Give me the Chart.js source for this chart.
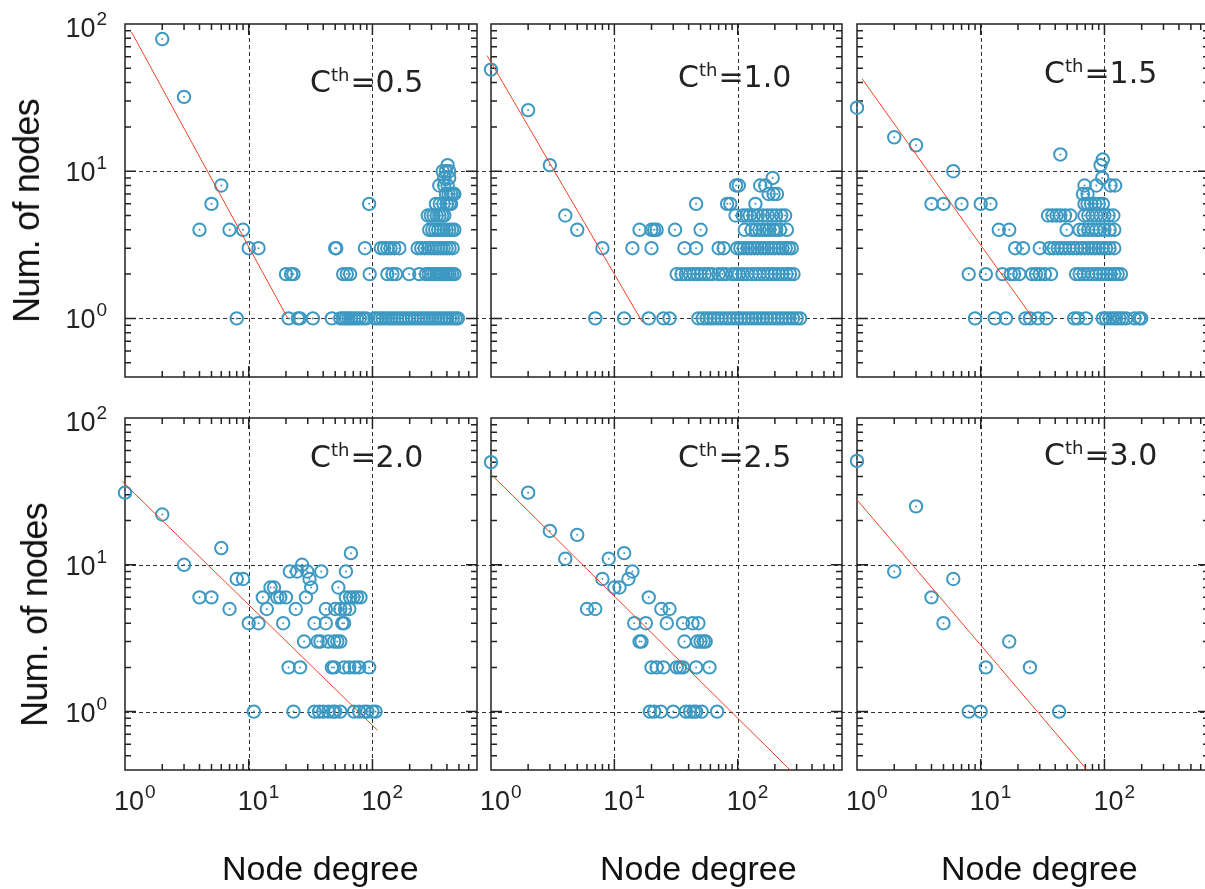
<!DOCTYPE html>
<html>
<head>
<meta charset="utf-8">
<script src="https://cdn.jsdelivr.net/npm/chart.js@4.4.0/dist/chart.umd.min.js"></script>
<style>
html, body { margin: 0; padding: 0; width: 1205px; height: 889px; overflow: hidden; background: #fff; }
canvas { position: absolute; left: 0; top: 0; }
.ylab { position: absolute; font: 36px "Liberation Sans", Arial, sans-serif; line-height: 36px; letter-spacing: -0.8px; white-space: nowrap; color: #111; transform: translate(-50%, -50%) rotate(-90deg); }
.xlab { position: absolute; font: 34px "Liberation Sans", Arial, sans-serif; line-height: 34px; white-space: nowrap; color: #111; }
.cth { position: absolute; font: 30px "DejaVu Sans", sans-serif; line-height: 30px; white-space: nowrap; color: #222; }
.cth span { font-size: 18px; position: relative; top: -11px; margin-right: 1px; }
</style>
</head>
<body>
<canvas id="c05" width="1225" height="889"></canvas>
<canvas id="c10" width="1225" height="889"></canvas>
<canvas id="c15" width="1225" height="889"></canvas>
<canvas id="c20" width="1225" height="889"></canvas>
<canvas id="c25" width="1225" height="889"></canvas>
<canvas id="c30" width="1225" height="889"></canvas>

<div class="ylab" style="left:27px; top:211px">Num. of nodes</div>
<div class="ylab" style="left:35px; top:615px">Num. of nodes</div>
<div class="xlab" style="left:222px; top:851px">Node degree</div>
<div class="xlab" style="left:600px; top:851px">Node degree</div>
<div class="xlab" style="left:941px; top:851px">Node degree</div>

<div class="cth" style="left:310px; top:67px">C<span>th</span>=0.5</div>
<div class="cth" style="left:678px; top:62px">C<span>th</span>=1.0</div>
<div class="cth" style="left:1044px; top:58px">C<span>th</span>=1.5</div>
<div class="cth" style="left:310px; top:442px">C<span>th</span>=2.0</div>
<div class="cth" style="left:678px; top:442px">C<span>th</span>=2.5</div>
<div class="cth" style="left:1044px; top:440px">C<span>th</span>=3.0</div>

<script>
// [node degree, number of nodes]
const pts05 = [
    [2, 79], [3, 32], [4, 4], [5, 6], [6, 8], [7, 4], [8, 1], [9, 4], [10, 3], [12, 3],
    [20, 2], [22, 2], [23, 2], [21, 1], [25, 1], [26, 1], [33, 1], [94, 6], [50, 3], [51, 3], [87, 3],
    [47, 1], [55, 1], [58, 1], [61, 1], [64, 1], [67, 1], [71, 1], [75, 1], [79, 1], [84, 1], [89, 1],
    [104, 1], [109, 1], [115, 1], [121, 1], [128, 1], [135, 1], [142, 1], [150, 1], [158, 1], [167, 1],
    [176, 1], [186, 1], [197, 1], [208, 1], [220, 1], [233, 1], [246, 1], [260, 1], [275, 1], [290, 1],
    [306, 1], [323, 1], [341, 1], [360, 1], [380, 1], [401, 1], [423, 1], [446, 1], [470, 1], [490, 1],
    [58, 2], [62, 2], [66, 2], [95, 2], [132, 2], [145, 2], [155, 2], [198, 2], [239, 2], [271, 2],
    [285, 2], [300, 2], [315, 2], [330, 2], [345, 2], [360, 2], [375, 2], [390, 2], [405, 2], [420, 2],
    [440, 2], [460, 2],
    [117, 3], [124, 3], [132, 3], [140, 3], [150, 3], [165, 3], [232, 3], [248, 3], [265, 3], [282, 3],
    [300, 3], [318, 3], [337, 3], [356, 3], [376, 3], [397, 3], [420, 3], [445, 3],
    [288, 4], [305, 4], [322, 4], [340, 4], [358, 4], [377, 4], [397, 4], [418, 4], [440, 4], [459, 4],
    [280, 5], [296, 5], [312, 5], [330, 5], [348, 5], [366, 5], [381, 5],
    [326, 6], [350, 6], [375, 6], [400, 6], [420, 6], [432, 6],
    [393, 7], [412, 7], [432, 7], [450, 7], [459, 7],
    [347, 8], [380, 8], [405, 8], [381, 9], [417, 9], [370, 10], [392, 10], [417, 10], [405, 11]
]
const pts10 = [
    [1, 49], [2, 26], [3, 11], [4, 5], [5, 4], [8, 3], [7, 1], [12, 1], [19, 1], [25, 1], [28, 1],
    [14, 3], [20, 3], [37, 3], [46, 3], [70, 3], [77, 3],
    [16, 4], [20, 4], [21, 4], [22, 4], [31, 4], [50, 4], [114, 4],
    [46, 6], [82, 6], [87, 6], [139, 6], [96, 5],
    [97, 8], [102, 8], [152, 8], [167, 8], [192, 9], [178, 7], [195, 7], [208, 7],
    [48, 1], [52, 1], [56, 1], [60, 1], [64, 1], [69, 1], [74, 1], [80, 1], [86, 1], [92, 1], [99, 1],
    [106, 1], [114, 1], [122, 1], [131, 1], [140, 1], [150, 1], [160, 1], [172, 1], [185, 1], [198, 1],
    [212, 1], [228, 1], [245, 1], [262, 1], [280, 1], [300, 1], [320, 1],
    [32, 2], [35, 2], [38, 2], [41, 2], [44, 2], [47, 2], [50, 2], [54, 2], [58, 2], [62, 2], [70, 2],
    [75, 2], [80, 2], [90, 2], [96, 2], [102, 2], [110, 2], [120, 2], [130, 2], [140, 2], [150, 2],
    [162, 2], [175, 2], [188, 2], [200, 2], [215, 2], [230, 2], [248, 2], [265, 2], [283, 2],
    [99, 3], [105, 3], [112, 3], [120, 3], [128, 3], [136, 3], [145, 3], [155, 3], [165, 3], [176, 3],
    [188, 3], [200, 3], [215, 3], [230, 3], [245, 3], [260, 3], [274, 3],
    [130, 4], [140, 4], [150, 4], [160, 4], [170, 4], [180, 4], [195, 4], [205, 4], [220, 4], [250, 4],
    [110, 5], [118, 5], [125, 5], [135, 5], [145, 5], [160, 5], [175, 5], [190, 5], [205, 5], [225, 5], [242, 5]
]
const pts15 = [
    [1, 27], [2, 17], [3, 15], [6, 10], [44, 13], [93, 11], [97, 12], [96, 9],
    [9, 1], [13, 1], [16, 1], [23, 1], [25, 1], [29, 1], [34, 1], [57, 1], [61, 1], [71, 1], [97, 1],
    [103, 1], [110, 1], [117, 1], [124, 1], [132, 1], [140, 1], [150, 1], [175, 1], [190, 1], [198, 1],
    [8, 2], [11, 2], [15, 2], [17.5, 2], [18.6, 2], [20.5, 2], [26, 2], [28, 2], [30, 2], [33, 2], [37, 2],
    [59, 2], [63, 2], [68, 2], [74, 2], [80, 2], [86, 2], [92, 2], [98, 2], [105, 2], [112, 2], [120, 2],
    [128, 2], [136, 2],
    [19, 3], [22, 3], [30, 3], [36, 3], [39, 3], [42, 3], [45, 3], [48, 3], [52, 3], [56, 3], [60, 3],
    [65, 3], [69, 3], [74, 3], [79, 3], [84, 3], [90, 3], [96, 3], [103, 3], [110, 3], [120, 3],
    [14, 4], [17, 4], [49.5, 4], [63, 4], [68, 4], [74, 4], [80, 4], [86, 4], [92, 4], [100, 4], [110, 4], [120, 4],
    [35, 5], [38, 5], [41, 5], [44, 5], [48, 5], [53, 5], [69, 5], [74, 5], [80, 5], [86, 5], [93, 5],
    [100, 5], [108, 5], [118, 5],
    [4, 6], [5, 6], [7, 6], [10, 6], [12, 6], [69, 6], [73, 6], [78, 6], [84, 6], [90, 6], [97, 6],
    [67, 7], [73, 7], [69, 8], [86, 8], [112, 8], [122, 8]
]
const pts20 = [
    [1, 31], [2, 22], [3, 10], [4, 6], [5, 6], [6, 13], [7, 5], [8, 8], [9, 8], [10, 4], [12, 4], [11, 1],
    [13, 6], [14, 5], [15, 7], [16, 7], [17, 6], [18, 6], [20, 6], [19, 4], [21, 2], [26, 2], [21.5, 9],
    [24.6, 9], [27, 10], [23, 1], [24, 5], [29, 6], [29.7, 9], [31, 8], [32, 7], [28, 3], [34, 4], [42, 4],
    [36, 3], [38, 3], [44, 3], [49, 3], [52, 3], [55, 3], [38.6, 9], [42, 5], [34, 1], [37, 1], [40, 1],
    [44, 1], [48, 1], [50, 1], [55, 1], [47, 2], [49, 2], [59, 2], [65, 2], [72, 2], [78, 2], [94, 2],
    [50, 5], [55, 5], [60, 5], [65, 5], [53, 7], [57, 4], [59, 4], [61, 9], [61, 6], [66, 6], [70, 6],
    [75, 6], [80, 6], [67, 12], [71, 1], [78, 1], [86, 1], [91, 1], [100, 1], [106, 1]
]
const pts25 = [
    [1, 50], [2, 31], [3, 17], [5, 16], [4, 11], [6, 5], [7, 5], [8, 8], [9, 11], [10, 7], [11, 7], [12, 12],
    [13, 8], [14, 9], [19, 6], [24, 5], [28, 5], [14.5, 4], [18, 4], [26.6, 4], [36, 4], [43, 4], [48, 4],
    [16, 3], [16.6, 3], [37, 3], [47, 3], [50, 3], [53, 3], [55, 3], [20, 2], [22, 2], [25, 2], [32, 2],
    [34, 2], [36, 2], [46, 2], [59, 2], [19.4, 1], [21, 1], [23.8, 1], [30, 1], [38, 1], [41, 1], [44, 1],
    [46, 1], [51, 1], [68, 1]
]
const pts30 = [
    [1, 51], [2, 9], [3, 25], [4, 6], [5, 4], [6, 8], [8, 1], [10, 1], [11, 2], [17, 3], [25, 2], [43, 1]
]

// fitted power-law lines, two end points each
const fit05 = [[1.13, 88], [20.7, 1]]
const fit10 = [[0.93, 61], [16.9, 0.94]]
const fit15 = [[1.1, 42.4], [26.5, 1.0]]
const fit20 = [[0.95, 36.9], [110, 0.746]]
const fit25 = [[1, 41.4], [266, 0.4]]
const fit30 = [[1, 27.7], [72.4, 0.4]]

const tickValues = [1, 10, 100]
const tickExponents = ['0', '1', '2']
const gridX = [10, 100]
const gridY = [1, 10]

const W = 1225, H = 889
const blue = '#3d99c2'
const red = '#ee4324'
const ink = '#222'

const minorTicks = function (lo, hi) {
    let out = []
    for (let e = -1; e <= 2; e++) {
        for (let d = 1; d <= 9; d++) {
            let v = d * Math.pow(10, e)
            if (v > lo * 1.0001 && v < hi * 0.9999) out.push(v)
        }
    }
    return out
}

const drawPow = function (ctx, x, y, exp) {
    ctx.font = '27px "Liberation Sans", Arial, sans-serif'
    ctx.fillText('10', x, y)
    let w = ctx.measureText('10').width
    ctx.font = '19px "Liberation Sans", Arial, sans-serif'
    ctx.fillText(exp, x + w + 1, y - 12)
}

const powWidth = function (ctx, exp) {
    ctx.font = '27px "Liberation Sans", Arial, sans-serif'
    let w = ctx.measureText('10').width
    ctx.font = '19px "Liberation Sans", Arial, sans-serif'
    return w + 1 + ctx.measureText(exp).width
}

const framePlugin = {
    id: 'frame',
    beforeDatasetsDraw(chart, args, opts) {
        const ctx = chart.ctx
        const a = chart.chartArea
        const x = chart.scales.x
        const y = chart.scales.y

        // dashed grid, running on across the gaps between panels
        ctx.save()
        ctx.strokeStyle = '#333'
        ctx.lineWidth = 1
        ctx.setLineDash([4, 3])
        gridX.forEach(v => {
            let px = Math.round(x.getPixelForValue(v)) + 0.5
            ctx.beginPath()
            ctx.moveTo(px, a.top)
            ctx.lineTo(px, a.bottom + opts.down)
            ctx.stroke()
        })
        gridY.forEach(v => {
            let py = Math.round(y.getPixelForValue(v)) + 0.5
            ctx.beginPath()
            ctx.moveTo(a.left, py)
            ctx.lineTo(a.right + opts.right, py)
            ctx.stroke()
        })
        ctx.restore()

        // box with inward ticks on all sides
        ctx.save()
        ctx.strokeStyle = ink
        ctx.lineWidth = 1.5
        ctx.strokeRect(a.left, a.top, a.right - a.left, a.bottom - a.top)
        ctx.beginPath()
        minorTicks(x.min, x.max).forEach(v => {
            let px = x.getPixelForValue(v)
            let len = tickValues.includes(v) ? 11 : 6
            ctx.moveTo(px, a.bottom)
            ctx.lineTo(px, a.bottom - len)
            ctx.moveTo(px, a.top)
            ctx.lineTo(px, a.top + len)
        })
        minorTicks(y.min, y.max).forEach(v => {
            let py = y.getPixelForValue(v)
            let len = tickValues.includes(v) ? 11 : 6
            ctx.moveTo(a.left, py)
            ctx.lineTo(a.left + len, py)
            ctx.moveTo(a.right, py)
            ctx.lineTo(a.right - len, py)
        })
        ctx.stroke()

        // tick labels 10^n
        ctx.fillStyle = ink
        ctx.textBaseline = 'alphabetic'
        ctx.textAlign = 'left'
        tickValues.forEach((v, i) => {
            if (opts.yLabels) {
                let py = y.getPixelForValue(v)
                let w = powWidth(ctx, tickExponents[i])
                drawPow(ctx, a.left - 18 - w, Math.max(py + 10, a.top + 13), tickExponents[i])
            }
            if (opts.xLabels) {
                let px = x.getPixelForValue(v)
                drawPow(ctx, px - 11, a.bottom + 40, tickExponents[i])
            }
        })
        ctx.restore()
    }
}

const panels = [
    {id: 'c05', pts: pts05, fit: fit05, rect: [125, 24, 477, 377], yLabels: true, xLabels: false, right: 14, down: 41},
    {id: 'c10', pts: pts10, fit: fit10, rect: [491, 24, 842, 377], yLabels: false, xLabels: false, right: 15, down: 41},
    {id: 'c15', pts: pts15, fit: fit15, rect: [857, 24, 1209, 377], yLabels: false, xLabels: false, right: 0, down: 41},
    {id: 'c20', pts: pts20, fit: fit20, rect: [125, 418, 477, 770], yLabels: true, xLabels: true, right: 14, down: 0},
    {id: 'c25', pts: pts25, fit: fit25, rect: [491, 418, 842, 770], yLabels: false, xLabels: true, right: 15, down: 0},
    {id: 'c30', pts: pts30, fit: fit30, rect: [857, 418, 1209, 770], yLabels: false, xLabels: true, right: 0, down: 0}
]

panels.forEach(function (p) {
    const [l, t, r, b] = p.rect
    const xy = p.pts.map(a => ({x: a[0], y: a[1]}))
    new Chart(document.getElementById(p.id), {
        type: 'scatter',
        data: {
            datasets: [
                {
                    label: 'fit',
                    data: p.fit.map(a => ({x: a[0], y: a[1]})),
                    showLine: true,
                    borderColor: red,
                    borderWidth: 1,
                    pointRadius: 0,
                    clip: false
                },
                {
                    label: 'centre',
                    data: xy,
                    pointRadius: 1,
                    borderWidth: 0,
                    backgroundColor: blue,
                    clip: false
                },
                {
                    label: 'nodes',
                    data: xy,
                    pointStyle: 'circle',
                    pointRadius: 6.2,
                    borderWidth: 2,
                    borderColor: blue,
                    backgroundColor: 'rgba(0,0,0,0)',
                    clip: false
                }
            ]
        },
        options: {
            responsive: false,
            animation: false,
            events: [],
            layout: {
                padding: {left: l, top: t, right: W - r, bottom: H - b}
            },
            plugins: {
                legend: {display: false},
                tooltip: {enabled: false},
                frame: {yLabels: p.yLabels, xLabels: p.xLabels, right: p.right, down: p.down}
            },
            scales: {
                x: {type: 'logarithmic', min: 1, max: 700, display: false},
                y: {type: 'logarithmic', min: 0.4, max: 100, display: false}
            }
        },
        plugins: [framePlugin]
    })
})
</script>
</body>
</html>
